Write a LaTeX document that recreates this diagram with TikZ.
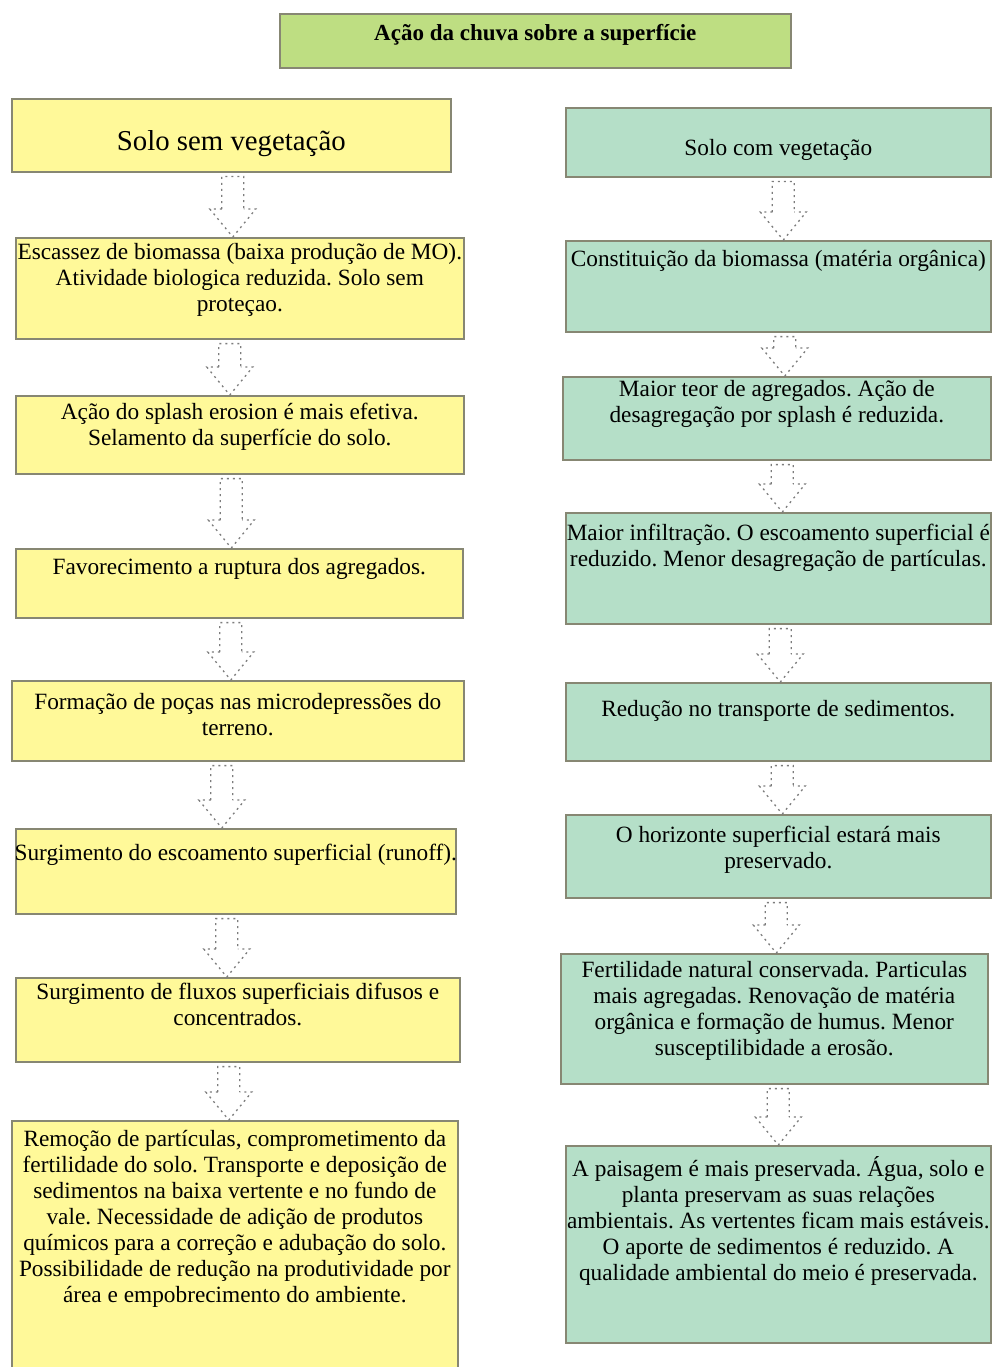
\documentclass[tikz,border=0pt]{standalone}
\usepackage{fontspec}
\setmainfont{Liberation Serif}
\usetikzlibrary{calc}
\frenchspacing

\definecolor{titlegreen}{RGB}{190,222,130}
\definecolor{soilyellow}{RGB}{255,249,153}
\definecolor{vegegreen}{RGB}{181,223,200}
\definecolor{boxline}{RGB}{135,135,115}
\definecolor{arrowgray}{RGB}{125,125,125}

\tikzset{
  box/.style={draw=boxline, line width=1.6pt, anchor=north west, inner sep=0pt},
  lbox/.style={box, fill=soilyellow},
  rbox/.style={box, fill=vegegreen},
  txt/.style={align=center, inner sep=0pt, anchor=north, font=\fontsize{23.3}{26}\selectfont},
  shaft/.style={draw=arrowgray, line width=1.3pt},
  head/.style={draw=arrowgray, line width=1.3pt, dash pattern=on 2pt off 4pt}
}

% hollow block arrow from node #2 down to node #3, shifted sideways by #1
\newcommand{\flowarrow}[3][0]{%
  \path let \p1=(#2.south), \p2=([xshift=#1pt]#3.north) in
    [shaft] (\x2-11pt,\y2+28pt) -- (\x2-11pt,\y1-4pt) -- (\x2+11pt,\y1-4pt) -- (\x2+11pt,\y2+28pt)
    [head] (\x2-11pt,\y2+28pt) -- (\x2-23pt,\y2+28pt) -- (\x2,\y2) -- (\x2+23pt,\y2+28pt) -- (\x2+11pt,\y2+28pt);
}

\begin{document}
\begin{tikzpicture}[x=1pt,y=-1pt]
\useasboundingbox (0,0) rectangle (992,1367);

% title
\node[box, fill=titlegreen, minimum width=511, minimum height=54] (title) at (279,13) {};
\node[txt, font=\fontsize{23}{26}\selectfont\bfseries] (titlet) at ([yshift=-11pt]title.north) {Ação da chuva sobre a superfície};

% left column: solo sem vegetacao
\node[lbox, minimum width=439, minimum height=73] (l0) at (11,98) {};
\node[txt, font=\fontsize{28.8}{32}\selectfont] (l0t) at ([yshift=-32pt]l0.north) {Solo sem vegetação};
\node[lbox, minimum width=448, minimum height=101] (l1) at (15,237) {};
\node[txt] (l1t) at ([yshift=-6pt]l1.north) {Escassez de biomassa (baixa produção de MO).\\ Atividade biologica reduzida. Solo sem\\ proteçao.};
\node[lbox, minimum width=448, minimum height=78] (l2) at (15,395) {};
\node[txt] (l2t) at ([yshift=-7.5pt]l2.north) {Ação do splash erosion é mais efetiva.\\ Selamento da superfície do solo.};
\node[lbox, minimum width=447, minimum height=69] (l3) at (15,548) {};
\node[txt] (l3t) at ([yshift=-10.5pt]l3.north) {Favorecimento a ruptura dos agregados.};
\node[lbox, minimum width=452, minimum height=80] (l4) at (11,680) {};
\node[txt] (l4t) at ([yshift=-13.5pt]l4.north) {Formação de poças nas microdepressões do\\ terreno.};
\node[lbox, minimum width=440, minimum height=85] (l5) at (15,828) {};
\node[txt] (l5t) at ([yshift=-15.5pt]l5.north) {Surgimento do escoamento superficial (runoff).};
\node[lbox, minimum width=444, minimum height=84] (l6) at (15,977) {};
\node[txt] (l6t) at ([yshift=-6pt]l6.north) {Surgimento de fluxos superficiais difusos e\\ concentrados.};
\node[lbox, minimum width=446, minimum height=252] (l7) at (11,1120) {};
\node[txt] (l7t) at ([yshift=-10pt]l7.north) {Remoção de partículas, comprometimento da\\ fertilidade do solo. Transporte e deposição de\\ sedimentos na baixa vertente e no fundo de\\ vale. Necessidade de adição de produtos\\ químicos para a correção e adubação do solo.\\ Possibilidade de redução na produtividade por\\ área e empobrecimento do ambiente.};

% right column: solo com vegetacao
\node[rbox, minimum width=425, minimum height=69] (r0) at (565,107) {};
\node[txt] (r0t) at ([yshift=-32.5pt]r0.north) {Solo com vegetação};
\node[rbox, minimum width=425, minimum height=91] (r1) at (565,240) {};
\node[txt] (r1t) at ([yshift=-10.5pt]r1.north) {Constituição da biomassa (matéria orgânica)};
\node[rbox, minimum width=428, minimum height=83] (r2) at (562,376) {};
\node[txt] (r2t) at ([yshift=-4pt]r2.north) {Maior teor de agregados. Ação de\\ desagregação por splash é reduzida.};
\node[rbox, minimum width=425, minimum height=111] (r3) at (565,512) {};
\node[txt] (r3t) at ([yshift=-11.5pt]r3.north) {Maior infiltração. O escoamento superficial é\\ reduzido. Menor desagregação de partículas.};
\node[rbox, minimum width=425, minimum height=78] (r4) at (565,682) {};
\node[txt] (r4t) at ([yshift=-18.5pt]r4.north) {Redução no transporte de sedimentos.};
\node[rbox, minimum width=425, minimum height=83] (r5) at (565,814) {};
\node[txt] (r5t) at ([yshift=-11.5pt]r5.north) {O horizonte superficial estará mais\\ preservado.};
\node[rbox, minimum width=427, minimum height=130] (r6) at (560,953) {};
\node[txt] (r6t) at ([yshift=-8.5pt]r6.north) {Fertilidade natural conservada. Particulas\\ mais agregadas. Renovação de matéria\\ orgânica e formação de humus. Menor\\ susceptilibidade a erosão.};
\node[rbox, minimum width=425, minimum height=197] (r7) at (565,1145) {};
\node[txt] (r7t) at ([yshift=-11pt]r7.north) {A paisagem é mais preservada. Água, solo e\\ planta preservam as suas relações\\ ambientais. As vertentes ficam mais estáveis.\\ O aporte de sedimentos é reduzido. A\\ qualidade ambiental do meio é preservada.};

% arrows
\flowarrow[-7]{l0}{l1}
\flowarrow[-10]{l1}{l2}
\flowarrow[-8]{l2}{l3}
\flowarrow[-7]{l3}{l4}
\flowarrow[-14]{l4}{l5}
\flowarrow[-11]{l5}{l6}
\flowarrow[-6]{l6}{l7}
\flowarrow[5]{r0}{r1}
\flowarrow[8]{r1}{r2}
\flowarrow[4]{r2}{r3}
\flowarrow[2]{r3}{r4}
\flowarrow[4]{r4}{r5}
\flowarrow[2]{r5}{r6}
\flowarrow[0]{r6}{r7}
\end{tikzpicture}
\end{document}
